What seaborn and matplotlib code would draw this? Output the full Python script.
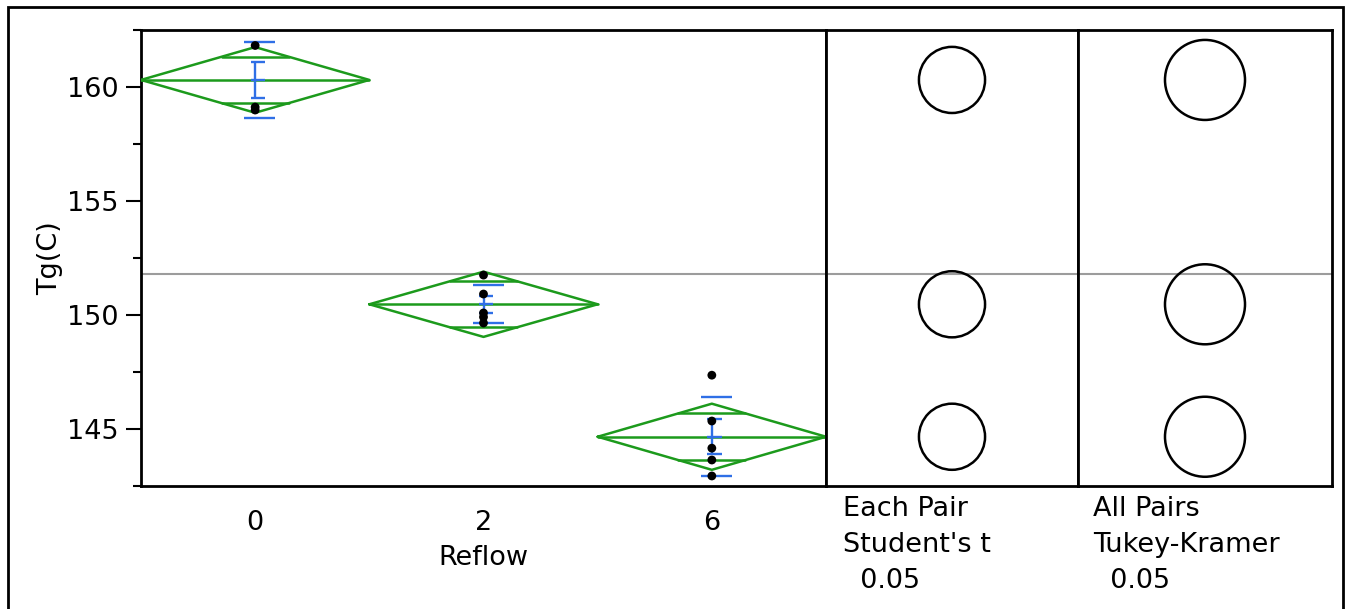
import numpy as np
import pandas as pd
import matplotlib
matplotlib.use("Agg")
import matplotlib.pyplot as plt
from matplotlib.patches import Circle, Rectangle
import seaborn as sns

# data (JMP oneway: Tg(C) by Reflow)
groups = ['0', '2', '6']
means = [160.31, 150.47, 144.66]
ci_half = [1.44, 1.43, 1.45]          # means diamond half height (95% CI)
sd = [1.67, 0.83, 1.725]
se = [0.78, 0.385, 0.765]
grand_mean = 151.81
t_radius = [1.45, 1.45, 1.45]         # Student's t comparison circles
tk_radius = [1.755, 1.755, 1.755]     # Tukey-Kramer comparison circles

pts_0 = [161.82, 159.12, 158.99]
pts_2 = [151.75, 150.92, 150.09, 149.91, 149.65]
pts_6 = [147.36, 145.35, 144.16, 143.64, 142.94]

rows = []
for i, vals in enumerate([pts_0, pts_2, pts_6]):
    for v in vals:
        rows.append({'pos': i, 'Tg': v})
df = pd.DataFrame(rows)

sns.set_style("white")
plt.rcParams['font.family'] = ['DejaVu Sans']
plt.rcParams['text.color'] = 'black'
plt.rcParams['axes.labelcolor'] = 'black'
plt.rcParams['xtick.color'] = 'black'
plt.rcParams['ytick.color'] = 'black'

green = '#1c9a1c'
blue = '#2f6fe6'
grey = '#9c9c9c'
FS = 19.5

W, H = 1349, 609
fig = plt.figure(figsize=(W / 100, H / 100), dpi=100)


def box(x0, x1, y0, y1):
    return [x0 / W, 1 - y1 / H, (x1 - x0) / W, (y1 - y0) / H]


ax = fig.add_axes(box(141, 826, 30, 486))
ax2 = fig.add_axes(box(826, 1078, 30, 486))
ax3 = fig.add_axes(box(1078, 1332, 30, 486))

ylim = (142.5, 162.5)

# means diamonds
for i, (m, c) in enumerate(zip(means, ci_half)):
    ax.plot([i - 0.5, i, i + 0.5, i, i - 0.5], [m, m + c, m, m - c, m],
            color=green, lw=1.8, zorder=3)
    ax.plot([i - 0.5, i + 0.5], [m, m], color=green, lw=1.8, zorder=3)
    h = c / np.sqrt(2)
    hw = 0.5 * (1 - h / c)
    for yy in (m + h, m - h):
        ax.plot([i - hw, i + hw], [yy, yy], color=green, lw=1.8, zorder=3)

# std dev lines and std error bars
for i, (m, s, e) in enumerate(zip(means, sd, se)):
    ax.hlines([m + s, m - s], i - 0.048, i + 0.088, color=blue, lw=1.7, zorder=4)
    ax.vlines(i, m - e, m + e, color=blue, lw=1.7, zorder=4)
    ax.hlines([m - e, m, m + e], i - 0.02, i + 0.043, color=blue, lw=1.7, zorder=4)

sns.scatterplot(data=df, x='pos', y='Tg', ax=ax, color='black', s=40,
                edgecolor='none', zorder=5, legend=False)

ax.axhline(grand_mean, color=grey, lw=1.5, zorder=1)
ax.set_xlim(-0.5, 2.5)
ax.set_ylim(*ylim)
ax.set_xticks([0, 1, 2])
ax.set_xticklabels(groups)
ax.set_xticks([0.5, 1.5], minor=True)
ax.set_yticks([145, 150, 155, 160])
ax.set_yticks([142.5, 147.5, 152.5, 157.5, 162.5], minor=True)
ax.tick_params(axis='x', which='major', length=0, pad=17, labelsize=FS)
ax.tick_params(axis='x', which='minor', length=8, width=1.5)
ax.tick_params(axis='y', which='major', length=11, width=1.5, pad=5,
               labelsize=FS, left=True)
ax.tick_params(axis='y', which='minor', length=6, width=1.5, left=True)
ax.set_xlabel('Reflow', fontsize=FS, labelpad=7)
ax.set_ylabel('Tg(C)', fontsize=FS, labelpad=3)

# comparison circles panels
for a, radii, pw in ((ax2, t_radius, 252), (ax3, tk_radius, 254)):
    xr = (ylim[1] - ylim[0]) * pw / 456 / 2
    a.set_xlim(-xr, xr)
    a.set_ylim(*ylim)
    a.axhline(grand_mean, color=grey, lw=1.5, zorder=1)
    for m, r in zip(means, radii):
        a.add_patch(Circle((0, m), r, fill=False, ec='black', lw=1.8, zorder=3))
    a.set_xticks([])
    a.set_yticks([])

for a in (ax, ax2, ax3):
    for sp in a.spines.values():
        sp.set_color('black')
        sp.set_linewidth(2)

# outer frame
fig.patches.append(Rectangle((8 / W, -0.05), (1343 - 8) / W, 1.05 - 7 / H,
                             transform=fig.transFigure, fill=False,
                             ec='black', lw=2))

for x0, lines in ((843, ['Each Pair', "Student's t", '  0.05']),
                  (1093, ['All Pairs', 'Tukey-Kramer', '  0.05'])):
    for k, t in enumerate(lines):
        fig.text(x0 / W, 1 - (516 + 36 * k) / H, t, fontsize=FS,
                 ha='left', va='baseline')

fig.savefig('out.png', dpi=100)
